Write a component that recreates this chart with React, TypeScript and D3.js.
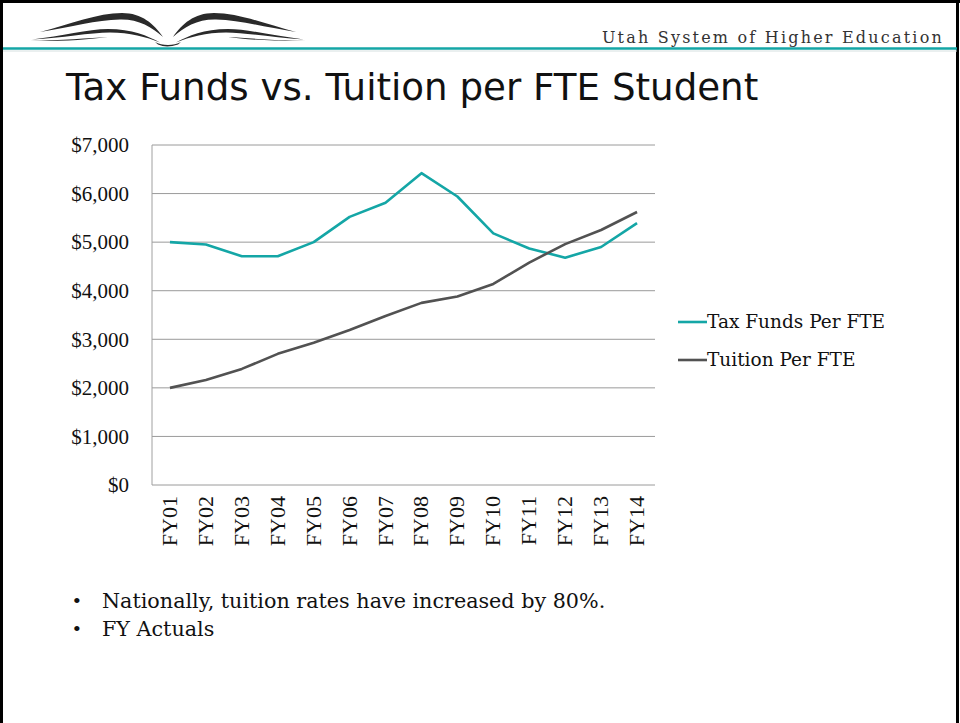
import React from "react";
import * as d3 from "d3";

const categories = ["FY01","FY02","FY03","FY04","FY05","FY06","FY07","FY08","FY09","FY10","FY11","FY12","FY13","FY14"];
const taxFunds = [5000,4950,4710,4710,5000,5520,5810,6420,5940,5180,4870,4680,4900,5390];
const tuition = [2000,2160,2390,2700,2930,3190,3480,3750,3880,4140,4580,4960,5250,5620];
const yTicks = [0,1000,2000,3000,4000,5000,6000,7000];
const seriesNames = ["Tax Funds Per FTE","Tuition Per FTE"];
const bullets = ["Nationally, tuition rates have increased by 80%.","FY Actuals"];

const W = 960, H = 723;
const plot = { left: 152, right: 655, top: 145, bottom: 485 };
const TEAL = "#14A6A6";
const GREY = "#525252";

export default function App() {
  const x = d3.scaleBand<string>().domain(categories).range([plot.left, plot.right]);
  const y = d3.scaleLinear().domain([0, 7000]).range([plot.bottom, plot.top]);
  const cx = (c: string) => (x(c) as number) + x.bandwidth() / 2;
  const line = d3.line<number>().x((_, i) => cx(categories[i])).y(d => y(d));
  const fmt = (v: number) => "$" + d3.format(",")(v);
  const serif = "'Liberation Serif', 'Times New Roman', serif";
  const pal = "'DejaVu Serif', 'Liberation Serif', serif";

  const wing = (
    <g>
      <path d="M40,32 C70,24 98,13 122,13 C142,13 154,24 163,37 C152,27 138,19 120,19.5 C96,20 72,27 40,32 Z" />
      <path d="M32,39.5 C62,36 88,29 108,29 C132,29 148,36 160,42.5 C146,37 130,32.5 110,32.5 C90,32.5 62,38 32,39.5 Z" />
      <path d="M30,41 C60,40.5 90,38 108,37 C90,39.5 60,41.5 30,41 Z" />
    </g>
  );

  return (
    <svg width={W} height={H} style={{ position: "absolute", left: 0, top: 0, background: "#fff" }}>
      <rect x={0} y={0} width={W} height={H} fill="#fff" />
      {/* frame */}
      <line x1={1.5} y1={0} x2={1.5} y2={H} stroke="#000" strokeWidth={3} />
      <line x1={0} y1={1.5} x2={W} y2={1.5} stroke="#000" strokeWidth={3} />
      <line x1={957.5} y1={0} x2={957.5} y2={H} stroke="#000" strokeWidth={3} />
      {/* header */}
      <line x1={3} y1={48.5} x2={957} y2={48.5} stroke={TEAL} strokeWidth={2.5} />
      <line x1={3} y1={51} x2={957} y2={51} stroke="#d5e0e0" strokeWidth={1} />
      {/* logo */}
      <g fill="#2a2a2a">
        {wing}
        <g transform="translate(336,0) scale(-1,1)">{wing}</g>
        <path d="M155,42 C162,46 174,46 181,42 L178,44.5 C170,47 164,47 158,44.5 Z" />
      </g>
      <text x={944} y={43} textAnchor="end" fontFamily={pal} fontSize={16} letterSpacing={2.2} fill="#333">Utah System of Higher Education</text>
      {/* title */}
      <text x={66} y={100} fontFamily="'DejaVu Sans', Verdana, sans-serif" fontSize={37.2} fill="#111">Tax Funds vs. Tuition per FTE Student</text>

      {/* gridlines */}
      {yTicks.map(t => (
        <line key={t} x1={plot.left} x2={plot.right} y1={y(t)} y2={y(t)} stroke="#9a9a9a" strokeWidth={1} />
      ))}
      <line x1={plot.left} x2={plot.left} y1={plot.top} y2={plot.bottom} stroke="#a0a0a0" strokeWidth={1} />
      {yTicks.map(t => (
        <text key={"l" + t} x={129} y={y(t)} dy="0.35em" textAnchor="end" fontFamily={serif} fontSize={21} fill="#111">{fmt(t)}</text>
      ))}
      {categories.map(c => (
        <text key={c} transform={`translate(${cx(c) + 7},${plot.bottom + 11}) rotate(-90)`} textAnchor="end" fontFamily={serif} fontSize={22} fill="#111">{c}</text>
      ))}

      {/* lines */}
      <path d={line(taxFunds) || ""} fill="none" stroke={TEAL} strokeWidth={2.6} strokeLinejoin="round" />
      <path d={line(tuition) || ""} fill="none" stroke={GREY} strokeWidth={2.6} strokeLinejoin="round" />

      {/* legend */}
      {seriesNames.map((n, i) => (
        <g key={n} transform={`translate(678,${322 + i * 38})`}>
          <line x1={0} x2={29} y1={0} y2={0} stroke={i === 0 ? TEAL : GREY} strokeWidth={2.6} />
          <text x={29} y={0} dy="0.35em" fontFamily={pal} fontSize={18.5} fill="#111">{n}</text>
        </g>
      ))}

      {/* bullets */}
      {bullets.map((b, i) => (
        <g key={b} transform={`translate(73,${608 + i * 28})`}>
          <text x={0} y={0} fontFamily={serif} fontSize={22} fill="#111">•</text>
          <text x={29} y={0} fontFamily={pal} fontSize={20.7} fill="#111">{b}</text>
        </g>
      ))}
    </svg>
  );
}
